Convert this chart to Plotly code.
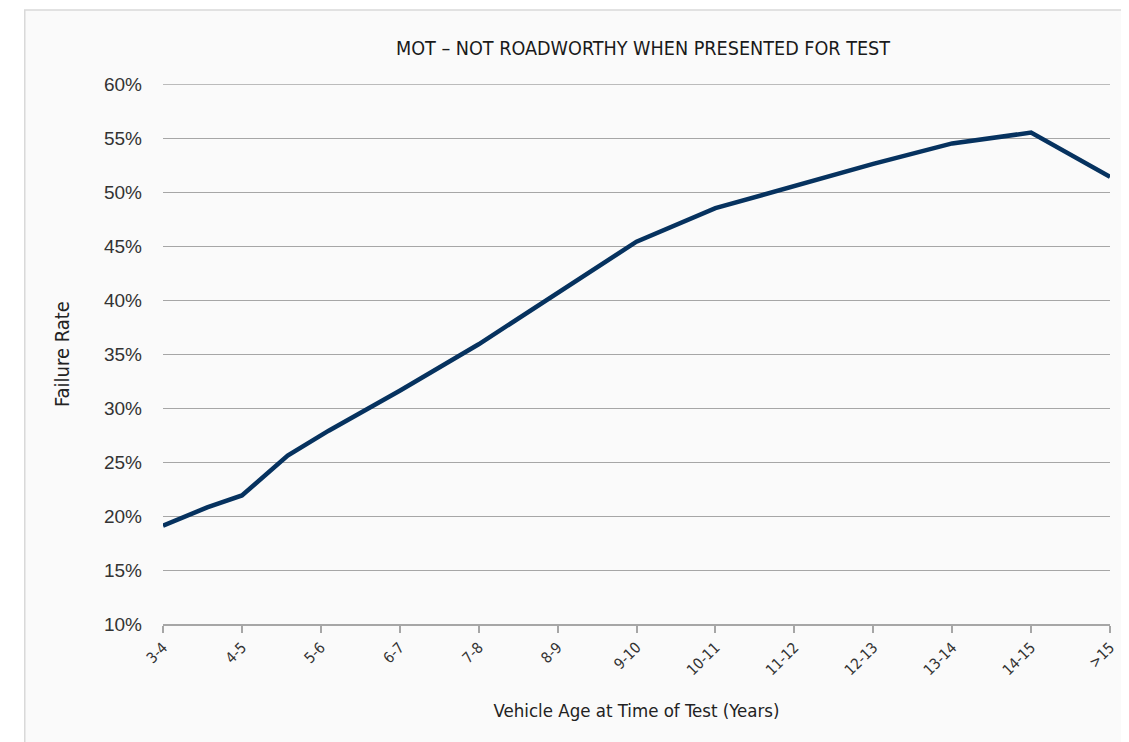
import plotly.graph_objects as go

categories = ["3-4", "4-5", "5-6", "6-7", "7-8", "8-9", "9-10", "10-11",
              "11-12", "12-13", "13-14", "14-15", ">15"]
age_position = [0, 0.56, 1.0, 1.58, 2.1, 3, 4, 5, 6, 7, 8, 9, 10, 11, 12]
failure_rate = [19.1, 20.8, 21.9, 25.6, 27.9, 31.6, 35.9, 40.7, 45.4, 48.5,
                50.6, 52.6, 54.5, 55.5, 51.4]
y_ticks = [10, 15, 20, 25, 30, 35, 40, 45, 50, 55, 60]

NARROW = "DejaVu Sans Condensed, Liberation Sans Narrow, sans-serif"
REG = "Liberation Sans, Arial, sans-serif"
GRID = "#a6a6a6"

fig = go.Figure()
fig.add_trace(go.Scatter(
    x=age_position, y=failure_rate, mode="lines",
    line=dict(color="#06325f", width=4.5),
    hoverinfo="skip", showlegend=False, cliponaxis=False,
))

W, H = 1113, 734
fig.update_layout(
    width=W, height=H,
    margin=dict(l=155, r=11, t=76, b=118),
    paper_bgcolor="white",
    plot_bgcolor="rgba(0,0,0,0)",
    title=dict(text="MOT – NOT ROADWORTHY WHEN PRESENTED FOR TEST",
               x=(643 - 8) / W, xanchor="center",
               y=1 - 40 / H, yanchor="middle",
               font=dict(family=NARROW, size=19.6, color="#1a1a1a")),
    xaxis=dict(
        range=[0, 12], tickmode="array", automargin=False,
        tickvals=list(range(len(categories))), ticktext=categories,
        tickangle=-45, tickfont=dict(family=NARROW, size=15, color="#333333"),
        ticklabeloverflow="allow",
        showgrid=False, zeroline=False,
        showline=True, linecolor=GRID, linewidth=1.5,
        ticks="outside", ticklen=7, tickcolor=GRID, tickwidth=1.5,
        title=dict(text="Vehicle Age at Time of Test (Years)",
                   font=dict(family=NARROW, size=18.5, color="#222222"),
                   standoff=26),
    ),
    yaxis=dict(
        range=[10, 60], tickmode="array", tickvals=y_ticks, automargin=False,
        ticktext=[f"{v}%" for v in y_ticks],
        tickfont=dict(family=REG, size=19, color="#333333"),
        showgrid=True, gridcolor=GRID, gridwidth=1.3,
        zeroline=False, showline=False, ticks="", ticklabelstandoff=20,
        title=dict(text="Failure Rate",
                   font=dict(family=NARROW, size=20, color="#222222"),
                   standoff=28),
    ),
    shapes=[
        dict(type="rect", xref="paper", yref="paper",
             x0=-0.146, x1=1.3, y0=-0.5, y1=1.137,
             fillcolor="#fafafa", line=dict(color="#d9d9d9", width=1.5),
             layer="below"),
        dict(type="line", xref="paper", yref="y",
             x0=0, x1=1, y0=max(y_ticks), y1=max(y_ticks),
             line=dict(color=GRID, width=1.3), layer="below"),
    ],
)

fig.write_html("out.html")
